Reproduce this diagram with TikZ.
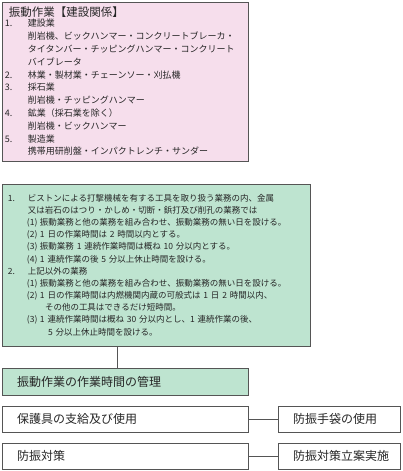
\documentclass[tikz,border=0pt]{standalone}
\usepackage{fontspec}
\setmainfont{Noto Sans CJK JP}
\definecolor{pinkfill}{RGB}{246,222,236}
\definecolor{greenfill}{RGB}{190,228,208}
\definecolor{linegray}{RGB}{85,85,85}
\newcommand{\listno}[2][20pt]{\makebox[#1][l]{#2}}

\begin{document}
\begin{tikzpicture}[x=1pt,y=-1pt,
  box/.style={draw=linegray,line width=0.9pt,rectangle,inner sep=0pt,align=left,text=black!85},
  pinkbox/.style={box,fill=pinkfill,minimum width=246pt,minimum height=159pt,text width=240pt,
    font=\fontsize{9}{12.8}\selectfont},
  greenbox/.style={box,fill=greenfill,minimum width=308pt,minimum height=162pt,text width=296pt,
    font=\fontsize{8.5}{12.15}\selectfont},
  plainbox/.style={box,fill=white,minimum height=26pt,font=\fontsize{12}{14}\selectfont},
  connector/.style={draw=linegray,line width=0.9pt}]
\useasboundingbox (0,0) rectangle (402,471);

% target groups
\node[pinkbox] (kensetsu) at (125,81.5) {%
\hspace{4pt}{\fontsize{11.5}{12.8}\selectfont 振動作業【建設関係】}\\[-2.8pt]
\listno[23pt]{1.}建設業\\
\hspace{23pt}削岩機、ビックハンマー・コンクリートブレーカ・\\
\hspace{23pt}タイタンバー・チッピングハンマー・コンクリート\\
\hspace{23pt}バイブレータ\\
\listno[23pt]{2.}林業・製材業・チェーンソー・刈払機\\
\listno[23pt]{3.}採石業\\
\hspace{23pt}削岩機・チッピングハンマー\\
\listno[23pt]{4.}鉱業（採石業を除く）\\
\hspace{23pt}削岩機・ビックハンマー\\
\listno[23pt]{5.}製造業\\
\hspace{23pt}携帯用研削盤・インパクトレンチ・サンダー};

% working time rules
\node[greenbox] (jikan) at (156,265) {%
\listno{1.}ビストンによる打撃機械を有する工具を取り扱う業務の内、金属\\
\hspace{20pt}又は岩石のはつり・かしめ・切断・鋲打及び削孔の業務では\\
\hspace{19pt}\listno[13pt]{(1)}振動業務と他の業務を組み合わせ、振動業務の無い日を設ける。\\
\hspace{19pt}\listno[13pt]{(2)}1~日の作業時間は~2~時間以内とする。\\
\hspace{19pt}\listno[13pt]{(3)}振動業務~1~連続作業時間は概ね~10~分以内とする。\\
\hspace{19pt}\listno[13pt]{(4)}1~連続作業の後~5~分以上休止時間を設ける。\\
\listno{2.}上記以外の業務\\
\hspace{19pt}\listno[13pt]{(1)}振動業務と他の業務を組み合わせ、振動業務の無い日を設ける。\\
\hspace{19pt}\listno[13pt]{(2)}1~日の作業時間は内燃機関内蔵の可般式は~1~日~2~時間以内、\\
\hspace{37pt}その他の工具はできるだけ短時間。\\
\hspace{19pt}\listno[13pt]{(3)}1~連続作業時間は概ね~30~分以内とし、1~連続作業の後、\\
\hspace{40pt}5~分以上休止時間を設ける。};

% measures
\node[plainbox,fill=greenfill,minimum width=246pt,minimum height=27pt,text width=216pt] (kanri) at (125,381.5) {振動作業の作業時間の管理};
\node[plainbox,minimum width=246pt,text width=216pt] (hogogu) at (125,419) {保護具の支給及び使用};
\node[plainbox,minimum width=122pt,text width=92pt] (tebukuro) at (339,419) {防振手袋の使用};
\node[plainbox,minimum width=246pt,text width=216pt] (boshin) at (125,456) {防振対策};
\node[plainbox,minimum width=122pt,text width=92pt] (rittan) at (339,456) {防振対策立案実施};

\draw[connector] ([xshift=116pt]jikan.south west) -- ([xshift=116pt]kanri.north west);
\draw[connector] (hogogu) -- (tebukuro);
\draw[connector] (boshin) -- (rittan);
\end{tikzpicture}
\end{document}
